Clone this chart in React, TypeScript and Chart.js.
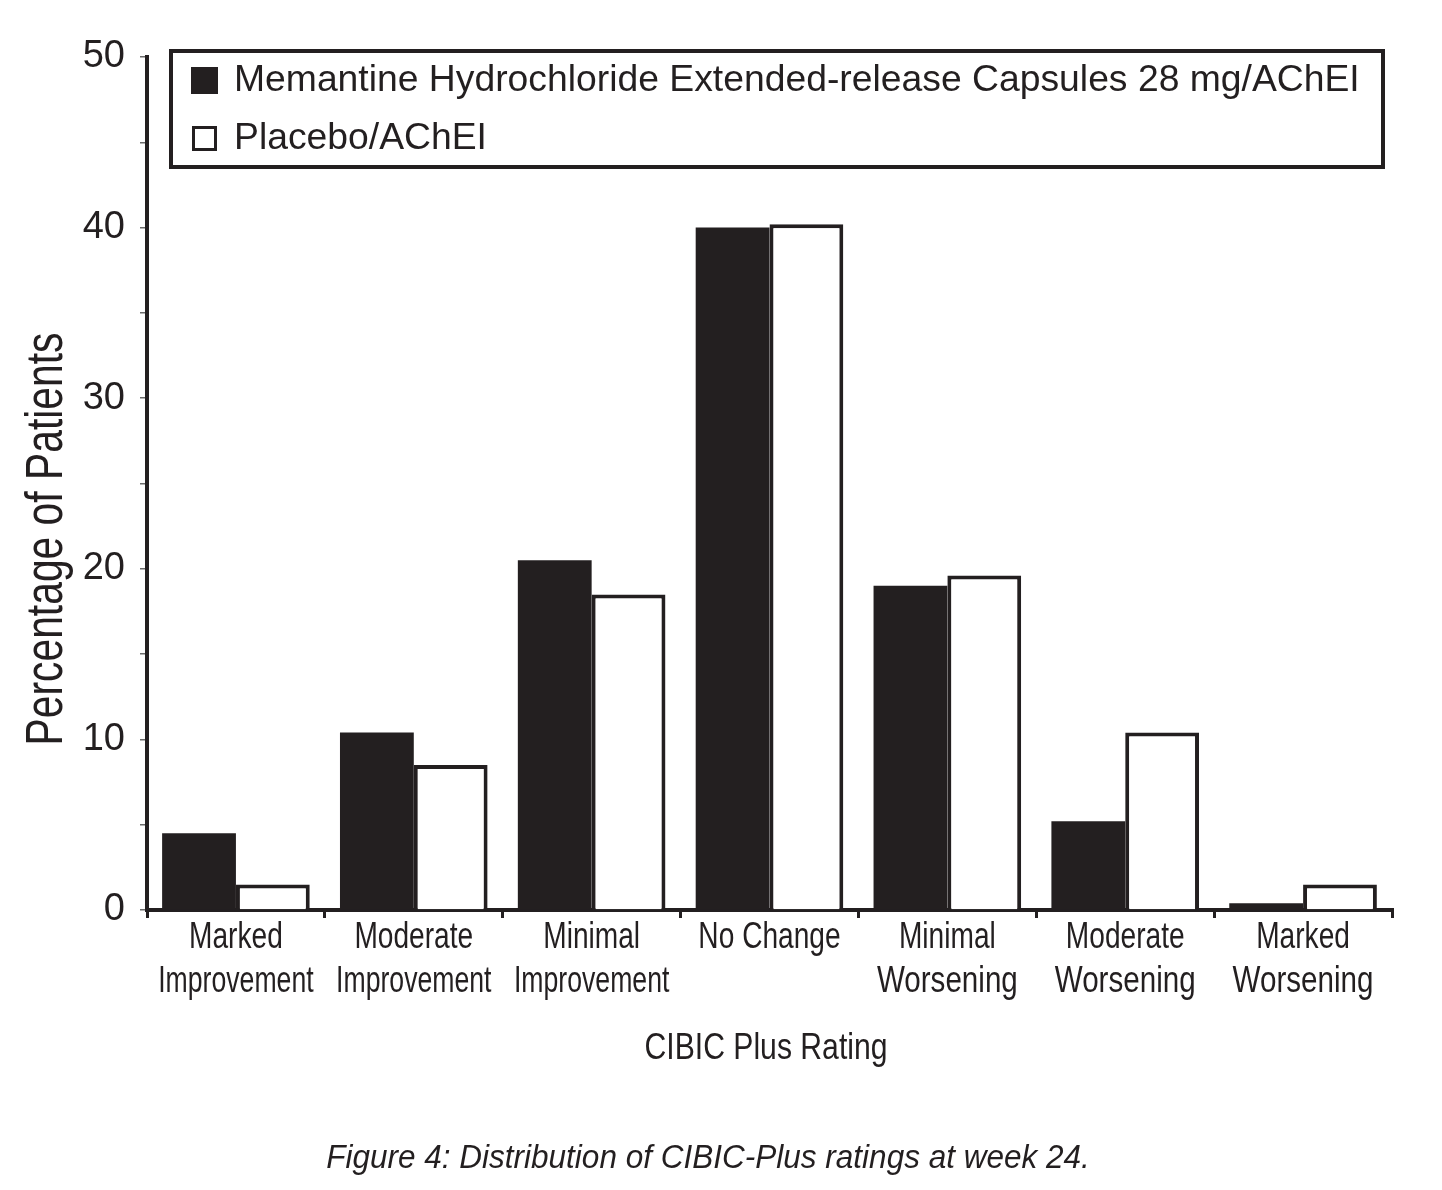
import React, { useEffect, useRef } from "react";
import { Chart, registerables } from "chart.js";

Chart.register(...registerables);

const categories: string[][] = [
  ["Marked", "Improvement"],
  ["Moderate", "Improvement"],
  ["Minimal", "Improvement"],
  ["No Change"],
  ["Minimal", "Worsening"],
  ["Moderate", "Worsening"],
  ["Marked", "Worsening"],
];
const memantineValues: number[] = [4.5, 10.4, 20.5, 40.0, 19.0, 5.2, 0.4];
const placeboValues: number[] = [1.5, 8.5, 18.5, 40.2, 19.6, 10.4, 1.5];
const seriesNames: string[] = [
  "Memantine Hydrochloride Extended-release Capsules 28 mg/AChEI",
  "Placebo/AChEI",
];
const yTickLabels: number[] = [0, 10, 20, 30, 40, 50];
const xTitle = "CIBIC Plus Rating";
const yTitle = "Percentage of Patients";
const caption = "Figure 4: Distribution of CIBIC-Plus ratings at week 24.";

const INK = "#231f20";
const SANS = '"Liberation Sans", Arial, Helvetica, sans-serif';

function drawCondensed(
  ctx: CanvasRenderingContext2D,
  text: string,
  x: number,
  y: number,
  font: string,
  sx: number,
  rotate = 0
) {
  ctx.save();
  ctx.translate(x, y);
  if (rotate) ctx.rotate(rotate);
  ctx.scale(sx, 1);
  ctx.font = font;
  ctx.textAlign = "center";
  ctx.textBaseline = "alphabetic";
  ctx.fillStyle = INK;
  ctx.fillText(text, 0, 0);
  ctx.restore();
}

const overlayPlugin = {
  id: "overlay",
  afterDraw(chart: any) {
    const ctx: CanvasRenderingContext2D = chart.ctx;
    const ca = chart.chartArea;
    const xs = chart.scales.x;

    // x tick labels (condensed)
    const labels: string[][] = chart.data.labels;
    labels.forEach((lines, i) => {
      const px = xs.getPixelForTick(i);
      lines.forEach((line, j) => {
        const sx = line === "Worsening" ? 0.8 : line === "Improvement" ? 0.72 : 0.76;
        drawCondensed(ctx, line, px, ca.bottom + 38.3 + j * 43.4, `37px ${SANS}`, sx);
      });
    });

    // x axis title
    drawCondensed(ctx, xTitle, (ca.left + ca.right) / 2 - 3.5, ca.bottom + 149, `37px ${SANS}`, 0.815);

    // y axis title
    drawCondensed(ctx, yTitle, ca.left - 85, ca.top + 482, `51px ${SANS}`, 0.8, -Math.PI / 2);

    // caption
    drawCondensed(ctx, caption, 700, ca.bottom + 258, `italic 33px ${SANS}`, 0.955);

    // legend box
    ctx.save();
    const bx = ca.left + 24;
    const by = ca.top - 6;
    const bw = ca.right - ca.left - 33;
    const bh = 116;
    ctx.fillStyle = "#ffffff";
    ctx.fillRect(bx, by, bw, bh);
    ctx.strokeStyle = INK;
    ctx.lineWidth = 4;
    ctx.strokeRect(bx, by, bw, bh);
    ctx.fillStyle = INK;
    ctx.fillRect(bx + 20, by + 16, 27, 27);
    ctx.lineWidth = 3;
    ctx.strokeRect(bx + 22.5, by + 76.5, 22, 22);
    ctx.font = `37.3px ${SANS}`;
    ctx.textAlign = "left";
    ctx.textBaseline = "middle";
    ctx.fillText(seriesNames[0], bx + 63, by + 30);
    ctx.fillText(seriesNames[1], bx + 63, by + 88);
    ctx.restore();
  },
};

export default function App() {
  const ref = useRef<HTMLCanvasElement | null>(null);
  useEffect(() => {
    if (!ref.current) return;
    const chart = new Chart(ref.current, {
      type: "bar",
      data: {
        labels: categories,
        datasets: [
          {
            label: seriesNames[0],
            data: memantineValues,
            backgroundColor: INK,
            borderWidth: 0,
            categoryPercentage: 0.83,
            barPercentage: 1,
          },
          {
            label: seriesNames[1],
            data: placeboValues,
            backgroundColor: "#ffffff",
            borderColor: INK,
            borderWidth: 4,
            borderSkipped: "start",
            categoryPercentage: 0.83,
            barPercentage: 1,
          },
        ],
      },
      options: {
        animation: false,
        responsive: true,
        maintainAspectRatio: false,
        layout: { padding: { top: 49, right: 42, left: 14, bottom: 0 } },
        plugins: {
          legend: { display: false },
          tooltip: { enabled: false },
          title: { display: false },
        },
        scales: {
          x: {
            type: "category",
            z: 1,
            grid: {
              drawOnChartArea: false,
              drawTicks: true,
              tickLength: 8,
              lineWidth: 3,
              color: INK,
              offset: true,
            },
            border: { display: true, color: INK, width: 4 },
            ticks: { display: false, autoSkip: false },
            title: { display: false },
            afterFit: (s: any) => {
              s.height = 272;
            },
          },
          y: {
            min: 0,
            max: 50,
            z: 1,
            grid: {
              drawOnChartArea: false,
              drawTicks: true,
              tickLength: 7,
              lineWidth: 1.5,
              color: "#6b6b6b",
            },
            border: { display: true, color: INK, width: 4 },
            ticks: {
              stepSize: 5,
              color: INK,
              font: { family: SANS, size: 38 },
              padding: 15,
              callback: (v: any) => (yTickLabels.includes(Number(v)) ? String(v) : ""),
            },
            afterFit: (s: any) => {
              s.width = 125;
            },
          },
        },
      },
      plugins: [overlayPlugin],
    });
    return () => chart.destroy();
  }, []);
  return (
    <div style={{ width: 1426, height: 1174, position: "relative" }}>
      <canvas ref={ref} />
    </div>
  );
}
